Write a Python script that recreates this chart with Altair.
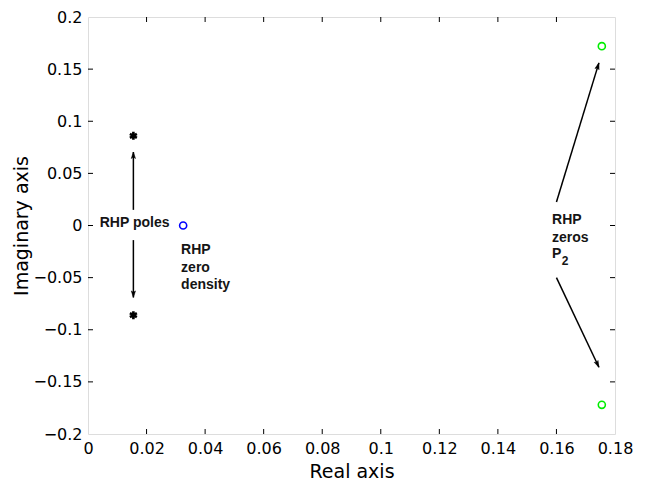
import math
import altair as alt
import pandas as pd

# ---- data ----
pole_x = [0.0155, 0.0155]
pole_y = [0.086, -0.086]
density_x = [0.0325]
density_y = [0.0]
zeros_x = [0.1755, 0.1755]
zeros_y = [0.172, -0.172]

arrow_x0 = [0.0155, 0.0155, 0.160, 0.160]
arrow_y0 = [0.015, -0.014, 0.0225, -0.050]
arrow_x1 = [0.0155, 0.0155, 0.1745, 0.1745]
arrow_y1 = [0.0705, -0.069, 0.156, -0.136]

label_text = ["RHP poles", "RHP", "zero", "density", "RHP", "zeros", "P"]
label_x = [0.0040, 0.0318, 0.0318, 0.0318, 0.1585, 0.1585, 0.1585]
label_y = [0.002, -0.0235, -0.041, -0.057, 0.005, -0.012, -0.0275]
sub_text = ["2"]
sub_x = [0.1618]
sub_y = [-0.034]

x_ticks = [0, 0.02, 0.04, 0.06, 0.08, 0.1, 0.12, 0.14, 0.16, 0.18]
y_ticks = [-0.2, -0.15, -0.1, -0.05, 0, 0.05, 0.1, 0.15, 0.2]

W, H = 527, 417
XD = [0, 0.18]
YD = [-0.2, 0.2]
AFONT = "DejaVu Sans"
TFONT = "Liberation Sans"

xs = alt.Scale(domain=XD, nice=False, zero=False)
ys = alt.Scale(domain=YD, nice=False, zero=False)

# arrowhead angle in screen space
angles = []
for a, b, c, d in zip(arrow_x0, arrow_y0, arrow_x1, arrow_y1):
    dx = (c - a) * W / (XD[1] - XD[0])
    dy = (d - b) * H / (YD[1] - YD[0])
    angles.append(math.degrees(math.atan2(dx, dy)) % 360)

arrows = pd.DataFrame({"x0": arrow_x0, "y0": arrow_y0, "x1": arrow_x1, "y1": arrow_y1, "ang": angles})

fmt = "datum.value == 0 ? '0' : format(datum.value, '.2~f')"
xaxis = alt.Axis(values=x_ticks, ticks=False, domain=False, grid=False, labelFontSize=16,
                 labelFont=AFONT, labelColor="black", labelPadding=6, title="Real axis",
                 titleFont=AFONT, titleFontSize=19, titleFontWeight="normal", titleColor="black",
                 titlePadding=6, labelExpr=fmt, labelFlush=False)
yaxis = alt.Axis(values=y_ticks, ticks=False, domain=False, grid=False, labelFontSize=16,
                 labelFont=AFONT, labelColor="black", labelPadding=6, title="Imaginary axis",
                 titleFont=AFONT, titleFontSize=19, titleFontWeight="normal", titleColor="black",
                 titlePadding=1, labelExpr=fmt, labelFlush=False)

star_path = "M0,-1L0,1M-0.87,-0.5L0.87,0.5M-0.87,0.5L0.87,-0.5"
poles = alt.Chart(pd.DataFrame({"x": pole_x, "y": pole_y})).mark_point(
    shape=star_path, filled=False, stroke="black", strokeWidth=2.6, size=64, opacity=1).encode(
    x=alt.X("x:Q", scale=xs, axis=xaxis), y=alt.Y("y:Q", scale=ys, axis=yaxis))

dens = alt.Chart(pd.DataFrame({"x": density_x, "y": density_y})).mark_point(
    shape="circle", filled=False, stroke="#0000ff", strokeWidth=1.6, size=50, opacity=1).encode(
    x=alt.X("x:Q", scale=xs), y=alt.Y("y:Q", scale=ys))

zer = alt.Chart(pd.DataFrame({"x": zeros_x, "y": zeros_y})).mark_point(
    shape="circle", filled=False, stroke="#00ee00", strokeWidth=1.6, size=50, opacity=1).encode(
    x=alt.X("x:Q", scale=xs), y=alt.Y("y:Q", scale=ys))

shafts = alt.Chart(arrows).mark_rule(color="black", strokeWidth=1.5).encode(
    x=alt.X("x0:Q", scale=xs), y=alt.Y("y0:Q", scale=ys), x2="x1:Q", y2="y1:Q")

head_path = "M0,0L0.75,2.3L0,1.8L-0.75,2.3Z"
heads = alt.Chart(arrows).mark_point(shape=head_path, filled=True, fill="black", stroke="black",
                                     strokeWidth=0.5, opacity=1, size=32).encode(
    x=alt.X("x1:Q", scale=xs), y=alt.Y("y1:Q", scale=ys), angle=alt.Angle("ang:Q", scale=None))

labels = alt.Chart(pd.DataFrame({"t": label_text, "x": label_x, "y": label_y})).mark_text(
    font=TFONT, fontSize=14, fontWeight="bold", align="left", baseline="middle", color="#151515").encode(
    x=alt.X("x:Q", scale=xs), y=alt.Y("y:Q", scale=ys), text="t:N")

subs = alt.Chart(pd.DataFrame({"t": sub_text, "x": sub_x, "y": sub_y})).mark_text(
    font=TFONT, fontSize=12, fontWeight="bold", align="left", baseline="middle", color="#151515").encode(
    x=alt.X("x:Q", scale=xs), y=alt.Y("y:Q", scale=ys), text="t:N")

# inward tick marks on all four sides
xt = alt.Chart(pd.DataFrame({"v": x_ticks[1:-1]}))
yt = alt.Chart(pd.DataFrame({"v": y_ticks[1:-1]}))
tick_b = xt.mark_rule(color="black", strokeWidth=1).encode(
    x=alt.X("v:Q", scale=xs), y=alt.value(H), y2=alt.value(H - 5))
tick_t = xt.mark_rule(color="black", strokeWidth=1).encode(
    x=alt.X("v:Q", scale=xs), y=alt.value(0), y2=alt.value(5))
tick_l = yt.mark_rule(color="black", strokeWidth=1).encode(
    y=alt.Y("v:Q", scale=ys), x=alt.value(0), x2=alt.value(5))
tick_r = yt.mark_rule(color="black", strokeWidth=1).encode(
    y=alt.Y("v:Q", scale=ys), x=alt.value(W), x2=alt.value(W - 5))

chart = alt.layer(poles, dens, zer, shafts, heads, labels, subs, tick_b, tick_t, tick_l, tick_r).properties(
    width=W, height=H, autosize="none",
    padding={"left": 88, "top": 17, "right": 34, "bottom": 54},
).configure_view(stroke="black", strokeWidth=1.5).configure(background="white")

chart.save("out.html", embed_options={"renderer": "svg", "actions": False})
